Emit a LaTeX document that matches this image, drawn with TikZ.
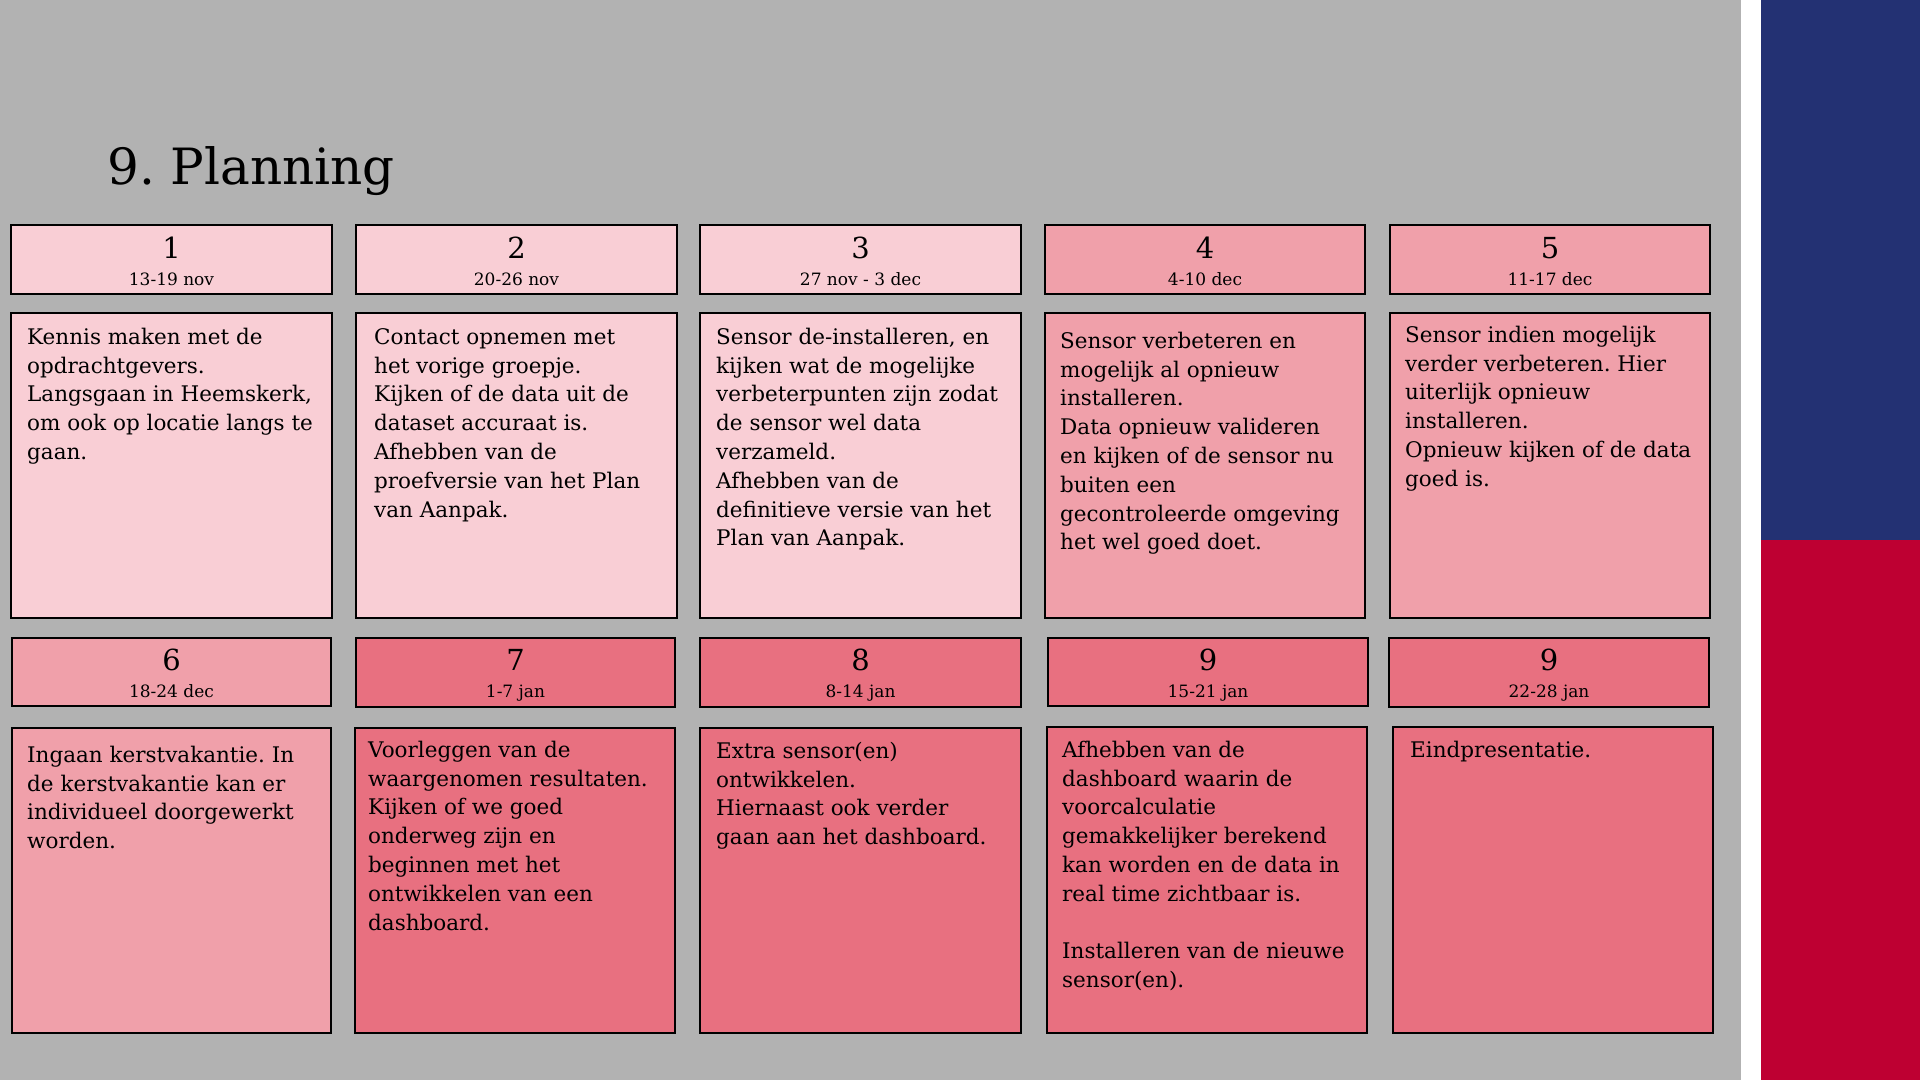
\documentclass[tikz,border=0pt]{standalone}
\usepackage{fontspec}
\setmainfont{DejaVu Serif}
\frenchspacing
\definecolor{bggray}{HTML}{B2B2B2}
\definecolor{pinkA}{HTML}{F9CED5}
\definecolor{pinkB}{HTML}{F0A0AA}
\definecolor{pinkC}{HTML}{E87080}
\definecolor{barblue}{HTML}{233173}
\definecolor{barred}{HTML}{BE0032}
\tikzset{
  cell/.style={draw=black, line width=1.1bp, inner sep=0pt, outer sep=0pt, anchor=north west},
  numtxt/.style={inner sep=0pt, anchor=base, font=\fontsize{29bp}{34bp}\selectfont},
  datetxt/.style={inner sep=0pt, anchor=base, font=\fontsize{17bp}{20bp}\selectfont},
  bodytxt/.style={inner sep=0pt, anchor=north west, align=left, font=\fontsize{21.5bp}{28.8bp}\selectfont},
  titletxt/.style={inner sep=0pt, anchor=base west, font=\fontsize{50bp}{60bp}\selectfont}
}
\newcommand\wcell[6]{\node[cell, fill=#6, minimum width=#4bp, minimum height=#5bp] (#1) at (#2,#3) {};}
% first-line strut: top of node lies 21bp above the first baseline
\newcommand\fl{\rule{0pt}{21bp}}
\begin{document}
\begin{tikzpicture}[x=1bp,y=-1bp]
\useasboundingbox (0,0) rectangle (1920,1080);
\fill[bggray] (0,0) rectangle (1741,1080);
\fill[white] (1741,0) rectangle (1761,1080);
\fill[barblue] (1761,0) rectangle (1920,540);
\fill[barred] (1761,540) rectangle (1920,1080);

\node[titletxt] (title) at (107,184) {9. Planning};

% row 1 headers
\wcell{h1}{11}{225}{321}{69}{pinkA}
\wcell{h2}{356}{225}{321}{69}{pinkA}
\wcell{h3}{700}{225}{321}{69}{pinkA}
\wcell{h4}{1045}{225}{320}{69}{pinkB}
\wcell{h5}{1390}{225}{320}{69}{pinkB}
% row 1 bodies
\wcell{b1}{11}{313}{321}{305}{pinkA}
\wcell{b2}{356}{313}{321}{305}{pinkA}
\wcell{b3}{700}{313}{321}{305}{pinkA}
\wcell{b4}{1045}{313}{320}{305}{pinkB}
\wcell{b5}{1390}{313}{320}{305}{pinkB}
% row 2 headers
\wcell{h6}{12}{638}{319}{68}{pinkB}
\wcell{h7}{356}{638}{319}{69}{pinkC}
\wcell{h8}{700}{638}{321}{69}{pinkC}
\wcell{h9}{1048}{638}{320}{68}{pinkC}
\wcell{h10}{1389}{638}{320}{69}{pinkC}
% row 2 bodies
\wcell{b6}{12}{728}{319}{305}{pinkB}
\wcell{b7}{355}{728}{320}{305}{pinkC}
\wcell{b8}{700}{728}{321}{305}{pinkC}
\wcell{b9}{1047}{727}{320}{306}{pinkC}
\wcell{b10}{1393}{727}{320}{306}{pinkC}

% header texts
\node[numtxt] (n1) at ([yshift=-33bp]h1.north) {1};
\node[datetxt] (d1) at ([yshift=-60bp]h1.north) {13-19 nov};
\node[numtxt] (n2) at ([yshift=-33bp]h2.north) {2};
\node[datetxt] (d2) at ([yshift=-60bp]h2.north) {20-26 nov};
\node[numtxt] (n3) at ([yshift=-33bp]h3.north) {3};
\node[datetxt] (d3) at ([yshift=-60bp]h3.north) {27 nov - 3 dec};
\node[numtxt] (n4) at ([yshift=-33bp]h4.north) {4};
\node[datetxt] (d4) at ([yshift=-60bp]h4.north) {4-10 dec};
\node[numtxt] (n5) at ([yshift=-33bp]h5.north) {5};
\node[datetxt] (d5) at ([yshift=-60bp]h5.north) {11-17 dec};
\node[numtxt] (n6) at ([yshift=-32bp]h6.north) {6};
\node[datetxt] (d6) at ([yshift=-59bp]h6.north) {18-24 dec};
\node[numtxt] (n7) at ([yshift=-32bp]h7.north) {7};
\node[datetxt] (d7) at ([yshift=-59bp]h7.north) {1-7 jan};
\node[numtxt] (n8) at ([yshift=-32bp]h8.north) {8};
\node[datetxt] (d8) at ([yshift=-59bp]h8.north) {8-14 jan};
\node[numtxt] (n9) at ([yshift=-32bp]h9.north) {9};
\node[datetxt] (d9) at ([yshift=-59bp]h9.north) {15-21 jan};
\node[numtxt] (n10) at ([yshift=-32bp]h10.north) {9};
\node[datetxt] (d10) at ([yshift=-59bp]h10.north) {22-28 jan};

% body texts (coordinates: first baseline minus 21)
\node[bodytxt] (t1) at (27,323) {\fl Kennis maken met de\\opdrachtgevers.\\Langsgaan in Heemskerk,\\om ook op locatie langs te\\gaan.};
\node[bodytxt] (t2) at (374,323) {\fl Contact opnemen met\\het vorige groepje.\\Kijken of de data uit de\\dataset accuraat is.\\Afhebben van de\\proefversie van het Plan\\van Aanpak.};
\node[bodytxt] (t3) at (716,323) {\fl Sensor de-installeren, en\\kijken wat de mogelijke\\verbeterpunten zijn zodat\\de sensor wel data\\verzameld.\\Afhebben van de\\definitieve versie van het\\Plan van Aanpak.};
\node[bodytxt] (t4) at (1060,327) {\fl Sensor verbeteren en\\mogelijk al opnieuw\\installeren.\\Data opnieuw valideren\\en kijken of de sensor nu\\buiten een\\gecontroleerde omgeving\\het wel goed doet.};
\node[bodytxt] (t5) at (1405,321) {\fl Sensor indien mogelijk\\verder verbeteren. Hier\\uiterlijk opnieuw\\installeren.\\Opnieuw kijken of de data\\goed is.};
\node[bodytxt] (t6) at (27,741) {\fl Ingaan kerstvakantie. In\\de kerstvakantie kan er\\individueel doorgewerkt\\worden.};
\node[bodytxt] (t7) at (368,736) {\fl Voorleggen van de\\waargenomen resultaten.\\Kijken of we goed\\onderweg zijn en\\beginnen met het\\ontwikkelen van een\\dashboard.};
\node[bodytxt] (t8) at (716,737) {\fl Extra sensor(en)\\ontwikkelen.\\Hiernaast ook verder\\gaan aan het dashboard.};
\node[bodytxt] (t9) at (1062,736) {\fl Afhebben van de\\dashboard waarin de\\voorcalculatie\\gemakkelijker berekend\\kan worden en de data in\\real time zichtbaar is.\\[28.8bp]Installeren van de nieuwe\\sensor(en).};
\node[bodytxt] (t10) at (1410,736) {\fl Eindpresentatie.};
\end{tikzpicture}
\end{document}
